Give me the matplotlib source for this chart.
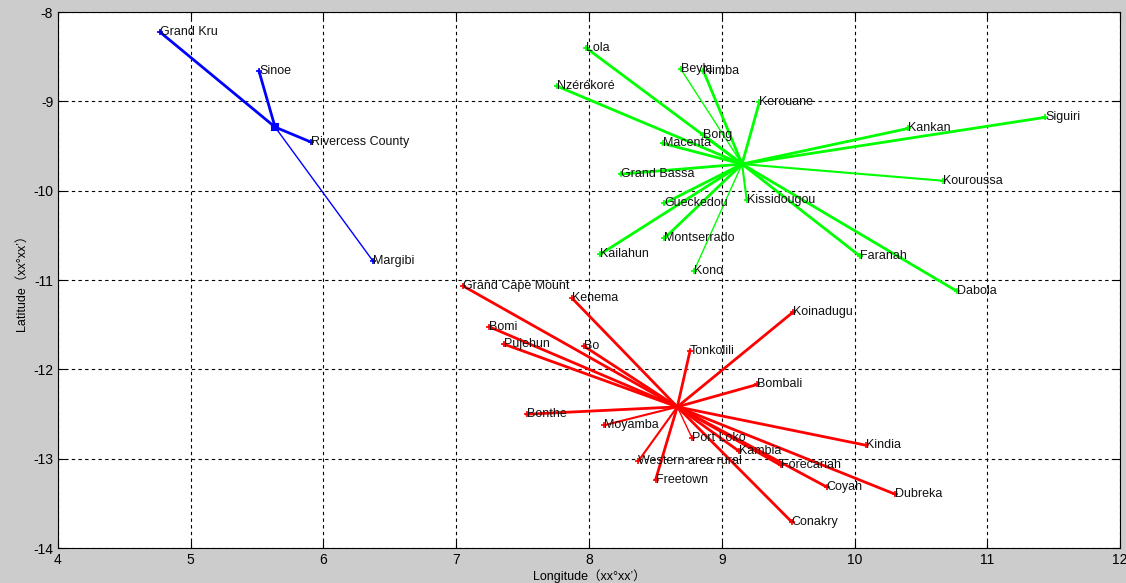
import numpy as np
import matplotlib
matplotlib.use('Agg')
import matplotlib.pyplot as plt

# cluster centres (longitude, latitude)
blue_center = (5.635, -9.288)
green_center = (9.153, -9.702)
red_center = (8.665, -12.420)

blue_names = ['Grand Kru', 'Sinoe', 'Rivercess County', 'Margibi']
blue_lon = [4.768, 5.514, 5.906, 6.373]
blue_lat = [-8.224, -8.661, -9.456, -10.788]

green_names = ['Lola', 'Beyla', 'Nimba', 'Nzérékoré', 'Kerouane', 'Bong', 'Macenta',
               'Grand Bassa', 'Gueckedou', 'Kissidougou', 'Montserrado', 'Kailahun',
               'Kono', 'Faranah', 'Kankan', 'Siguiri', 'Kouroussa', 'Dabola']
green_lon = [7.977, 8.691, 8.861, 7.757, 9.283, 8.861, 8.555, 8.239, 8.567, 9.188,
             8.567, 8.083, 8.791, 10.041, 10.405, 11.435, 10.669, 10.770]
green_lat = [-8.400, -8.638, -8.657, -8.829, -9.011, -9.377, -9.470, -9.814, -10.142,
             -10.105, -10.534, -10.713, -10.897, -10.732, -9.303, -9.179, -9.889, -11.124]

red_names = ['Grand Cape Mount', 'Kenema', 'Koinadugu', 'Bomi', 'Pujehun', 'Bo',
             'Tonkolili', 'Bombali', 'Bonthe', 'Moyamba', 'Port Loko', 'Kambia',
             'Kindia', 'Western area rural', 'Forecariah', 'Freetown', 'Coyah',
             'Conakry', 'Dubreka']
red_lon = [7.053, 7.874, 9.534, 7.249, 7.360, 7.962, 8.761, 9.268, 7.531, 8.115,
           8.778, 9.130, 10.084, 8.371, 9.444, 8.502, 9.790, 9.527, 10.305]
red_lat = [-11.068, -11.206, -11.363, -11.524, -11.718, -11.740, -11.793, -12.169,
           -12.502, -12.625, -12.774, -12.916, -12.849, -13.028, -13.073, -13.233,
           -13.316, -13.708, -13.397]

# line weights per link
blue_w = [2, 2, 2, 1]
green_w = [2, 1, 2, 2, 2, 2, 2, 2, 2, 1.5, 2, 2, 1, 2, 2, 2, 1.5, 2]
red_w = [2, 2, 2, 2, 2, 2, 2, 2, 2, 1.5, 1, 2, 2, 1.5, 2, 2, 2, 2, 2]

plt.rcParams['font.family'] = ['Liberation Sans', 'Noto Sans CJK SC', 'DejaVu Sans']
plt.rcParams['axes.unicode_minus'] = False

fig = plt.figure(figsize=(11.26, 5.83), dpi=100)
fig.patch.set_facecolor('#cccccc')
ax = fig.add_axes([0.0515, 0.060, 0.9432, 0.9194])


def draw_cluster(center, names, lon, lat, widths, color, center_marker, center_size):
    for n, x, y, w in zip(names, lon, lat, widths):
        ax.plot([center[0], x], [center[1], y], '-', color=color, linewidth=w)
        ax.plot(x, y, '+', color=color, markersize=5, markeredgewidth=1.2)
        ax.text(x, y, n, fontsize=9, ha='left', va='center', color='#111111')
    ax.plot(center[0], center[1], center_marker, color=color,
            markersize=center_size, markeredgewidth=1.5)


draw_cluster(blue_center, blue_names, blue_lon, blue_lat, blue_w, '#0000ff', 's', 4)
draw_cluster(green_center, green_names, green_lon, green_lat, green_w, '#00ff00', '+', 5)
draw_cluster(red_center, red_names, red_lon, red_lat, red_w, '#ff0000', '+', 5)

ax.set_xlim(4, 12)
ax.set_ylim(-14, -8)
ax.set_xticks(np.arange(4, 13, 1))
ax.set_yticks(np.arange(-14, -7, 1))
ax.grid(True, color='black', linestyle=(0, (3, 3)), linewidth=0.8)
ax.tick_params(direction='in', top=True, right=True, labelsize=10, length=5)
for s in ax.spines.values():
    s.set_linewidth(0.8)

ax.set_xlabel('Longitude（xx°xx’）', fontsize=9, labelpad=2)
ax.set_ylabel('Latitude（xx°xx’）', fontsize=9, labelpad=4)

fig.savefig('out.png', dpi=100, facecolor=fig.get_facecolor())
